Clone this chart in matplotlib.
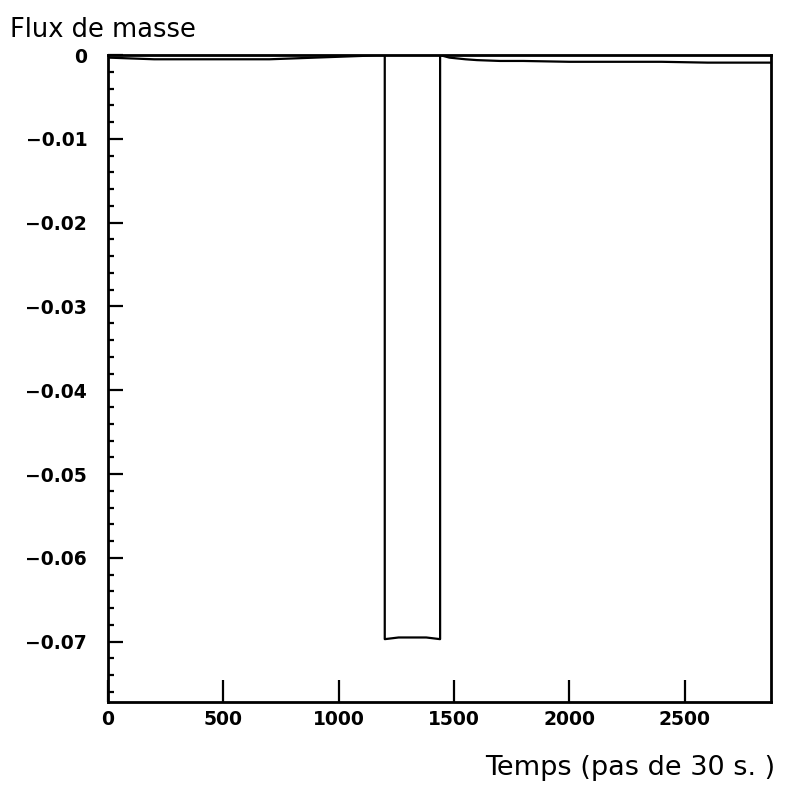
import matplotlib.pyplot as plt
import matplotlib.ticker as ticker

# données
temps = [0, 100, 200, 300, 400, 500, 600, 700, 800, 900, 1000, 1100, 1160,
         1200, 1200, 1260, 1320, 1380, 1440, 1440, 1480, 1550, 1600, 1700,
         1800, 2000, 2200, 2400, 2600, 2800, 2870]
flux = [-0.0003, -0.0004, -0.0005, -0.0005, -0.0005, -0.0005, -0.0005,
        -0.0005, -0.0004, -0.0003, -0.0002, -0.0001, 0.0,
        0.0, -0.0697, -0.0695, -0.0695, -0.0695, -0.0697, 0.0, -0.0003,
        -0.0005, -0.0006, -0.0007, -0.0007, -0.0008, -0.0008, -0.0008,
        -0.0009, -0.0009, -0.0009]

xticks = [0, 500, 1000, 1500, 2000, 2500]
yticks = [0, -0.01, -0.02, -0.03, -0.04, -0.05, -0.06, -0.07]
ylabels = ['0', '\u22120.01', '\u22120.02', '\u22120.03', '\u22120.04',
           '\u22120.05', '\u22120.06', '\u22120.07']

fig = plt.figure(figsize=(7.86, 7.87), dpi=100)
ax = fig.add_axes([0.1374, 0.108, 0.8436, 0.822])

ax.plot(temps, flux, color='black', linewidth=1.6)

ax.set_xlim(0, 2875)
ax.set_ylim(-0.0772, 0)

ax.set_xticks(xticks)
ax.set_xticklabels([str(v) for v in xticks], fontsize=13.5, fontweight='bold')
ax.set_yticks(yticks)
ax.set_yticklabels(ylabels, fontsize=13.5, fontweight='bold')
ax.yaxis.set_minor_locator(ticker.MultipleLocator(0.002))

ax.tick_params(axis='x', which='major', direction='in', length=16, width=1.6, pad=6)
ax.tick_params(axis='y', which='major', direction='in', length=11, width=1.6, pad=15)
ax.tick_params(axis='y', which='minor', direction='in', length=4.5, width=1.6)

for s in ax.spines.values():
    s.set_linewidth(2)

fig.text(10 / 786, 1 - 30 / 787, 'Flux de masse', fontsize=18.5,
         ha='left', va='center')
fig.text(775 / 786, 1 - 768 / 787, 'Temps (pas de 30 s. )', fontsize=19.5,
         ha='right', va='center')

fig.savefig('out.png', dpi=100)
